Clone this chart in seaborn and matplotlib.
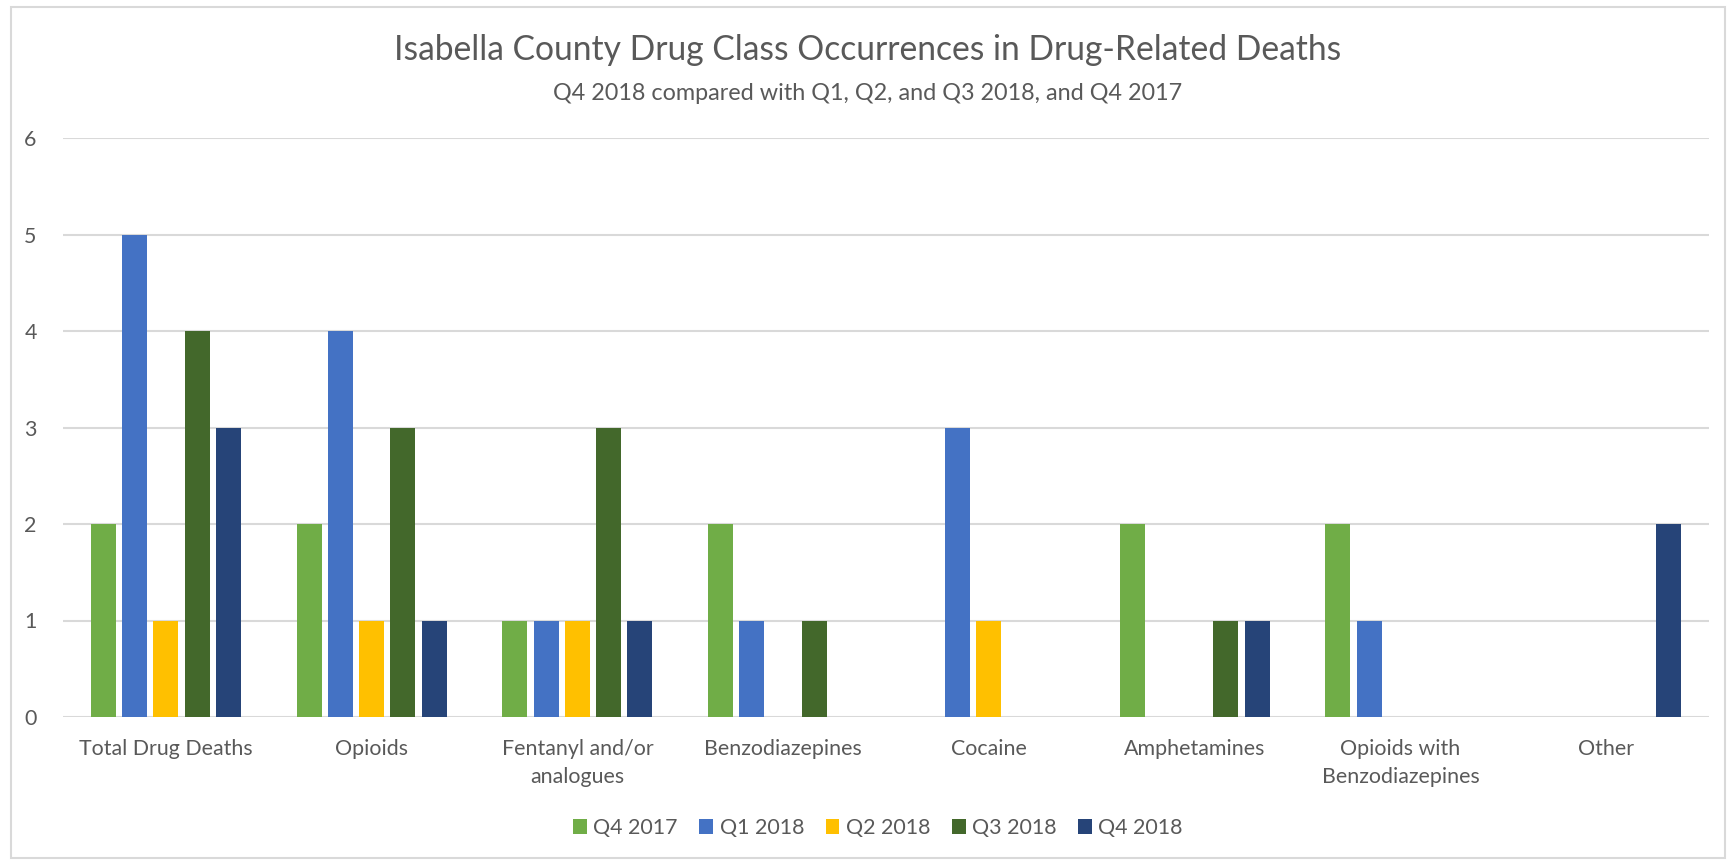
import matplotlib
matplotlib.use('Agg')
import matplotlib.pyplot as plt
import pandas as pd
import seaborn as sns
from matplotlib.patches import Rectangle

sns.set_theme(style='white')
plt.rcParams['font.family'] = ['Lato', 'DejaVu Sans']

categories = ['Total Drug Deaths', 'Opioids', 'Fentanyl and/or\nanalogues', 'Benzodiazepines',
              'Cocaine', 'Amphetamines', 'Opioids with\nBenzodiazepines', 'Other']
quarters = ['Q4 2017', 'Q1 2018', 'Q2 2018', 'Q3 2018', 'Q4 2018']
q4_2017 = [2, 2, 1, 2, 0, 2, 2, 0]
q1_2018 = [5, 4, 1, 1, 3, 0, 1, 0]
q2_2018 = [1, 1, 1, 0, 1, 0, 0, 0]
q3_2018 = [4, 3, 3, 1, 0, 1, 0, 0]
q4_2018 = [3, 1, 1, 0, 0, 1, 0, 2]
colors = ['#70AD47', '#4472C4', '#FFC000', '#43682B', '#264478']

series = [q4_2017, q1_2018, q2_2018, q3_2018, q4_2018]
rows = []
for q, vals in zip(quarters, series):
    for c, v in zip(categories, vals):
        rows.append({'category': c, 'quarter': q, 'count': v})
df = pd.DataFrame(rows)

text_color = '#595959'
grid_color = '#D9D9D9'

fig = plt.figure(figsize=(17.36, 8.66), dpi=100)
ax = fig.add_axes([63 / 1736, 1 - 717 / 866, (1709 - 63) / 1736, (717 - 138) / 866])

sns.barplot(data=df, x='category', y='count', hue='quarter', order=categories, hue_order=quarters,
            palette=colors, saturation=1, width=0.76, gap=0.2, errorbar=None, linewidth=0,
            ax=ax, zorder=3)

ax.set_ylim(0, 6)
ax.set_yticks(range(0, 7))
ax.yaxis.grid(True, color=grid_color, linewidth=1.5, zorder=0)
ax.set_axisbelow(True)
for s in ax.spines.values():
    s.set_visible(False)
ax.set_xlabel('')
ax.set_ylabel('')
ax.tick_params(axis='both', length=0, colors=text_color, labelsize=15.4)
ax.tick_params(axis='y', pad=19)
ax.tick_params(axis='x', pad=16)
for lbl in ax.get_xticklabels():
    lbl.set_linespacing(1.5)

fig.text(0.5, 1 - 50 / 866, 'Isabella County Drug Class Occurrences in Drug-Related Deaths',
         ha='center', va='center', fontsize=24.2, color=text_color)
fig.text(0.5, 1 - 94 / 866, 'Q4 2018 compared with Q1, Q2, and Q3 2018, and Q4 2017',
         ha='center', va='center', fontsize=16.8, color=text_color)

handles, labels = ax.get_legend_handles_labels()
ax.legend(handles, labels, loc='center', bbox_to_anchor=(878 / 1736, 1 - 828 / 866),
          bbox_transform=fig.transFigure, ncol=5, frameon=False, fontsize=15.4,
          handlelength=0.65, handleheight=0.65, handletextpad=0.3, columnspacing=1.0,
          labelcolor=text_color)

fig.patches.append(Rectangle((11 / 1736, 1 - 858 / 866), (1725 - 11) / 1736, (858 - 7) / 866,
                             transform=fig.transFigure, fill=False, edgecolor=grid_color, linewidth=1.5))

fig.savefig('out.png', dpi=100, facecolor='white')
